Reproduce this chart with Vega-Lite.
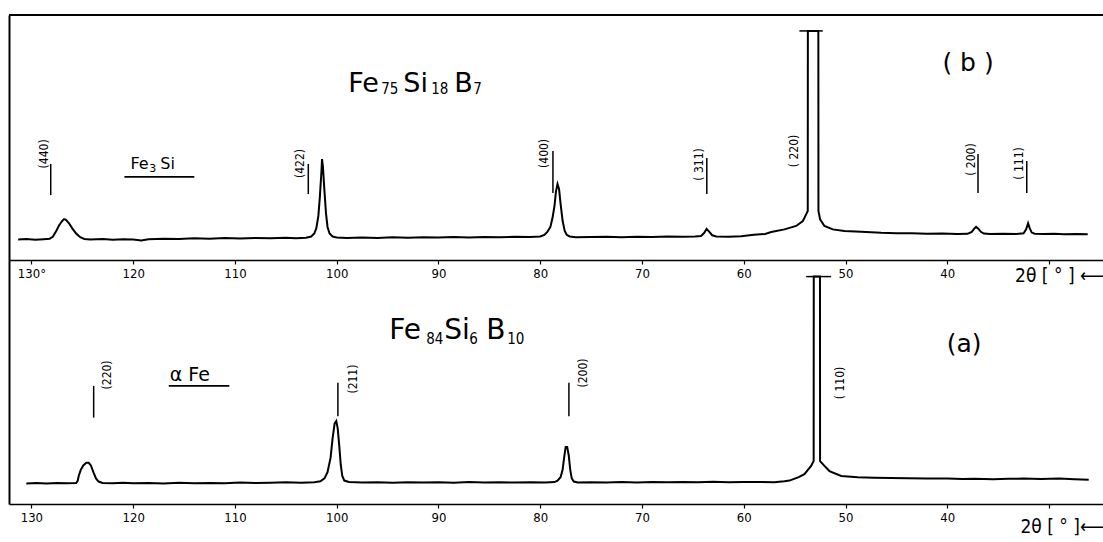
{
  "$schema": "https://vega.github.io/schema/vega-lite/v6.json",
  "background": "white",
  "padding": {"left": 8, "top": 14, "right": 0, "bottom": 0},
  "bounds": "flush",
  "spacing": 0,
  "config": {
    "view": {"stroke": null},
    "font": "DejaVu Sans Condensed",
    "axis": {"grid": false, "labelColor": "black", "titleColor": "black", "domainColor": "black", "tickColor": "black"}
  },
  "datasets": {
    "trace_b": [
      {"x": 131.3, "y": 8.4}, {"x": 130.5, "y": 8.6}, {"x": 129.6, "y": 8.3}, {"x": 128.8, "y": 8.5}, {"x": 128.2, "y": 8.7},
      {"x": 127.9, "y": 9.5}, {"x": 127.6, "y": 11.5}, {"x": 127.3, "y": 14.0}, {"x": 127.0, "y": 15.8}, {"x": 126.8, "y": 16.7},
      {"x": 126.6, "y": 16.4}, {"x": 126.3, "y": 15.0}, {"x": 126.0, "y": 13.0}, {"x": 125.6, "y": 10.8}, {"x": 125.2, "y": 9.3},
      {"x": 124.8, "y": 8.6}, {"x": 124.2, "y": 8.4}, {"x": 123.0, "y": 8.6}, {"x": 122.0, "y": 8.3}, {"x": 121.0, "y": 8.5},
      {"x": 120.0, "y": 8.4}, {"x": 119.2, "y": 8.0}, {"x": 118.5, "y": 8.5}, {"x": 117.0, "y": 8.7}, {"x": 115.5, "y": 8.6},
      {"x": 114.0, "y": 8.9}, {"x": 112.5, "y": 8.7}, {"x": 111.0, "y": 9.0}, {"x": 109.5, "y": 8.8}, {"x": 108.0, "y": 9.0},
      {"x": 106.5, "y": 8.9}, {"x": 105.0, "y": 9.1}, {"x": 104.0, "y": 8.9}, {"x": 103.0, "y": 9.1}, {"x": 102.5, "y": 9.6},
      {"x": 102.2, "y": 10.8}, {"x": 102.0, "y": 13.0}, {"x": 101.8, "y": 18.0}, {"x": 101.65, "y": 26.0}, {"x": 101.5, "y": 36.0},
      {"x": 101.44, "y": 41.2}, {"x": 101.35, "y": 38.0}, {"x": 101.2, "y": 28.0}, {"x": 101.05, "y": 19.0}, {"x": 100.9, "y": 13.5},
      {"x": 100.7, "y": 10.8}, {"x": 100.4, "y": 9.6}, {"x": 100.0, "y": 9.2}, {"x": 99.0, "y": 9.0}, {"x": 97.5, "y": 9.2},
      {"x": 96.0, "y": 9.0}, {"x": 94.5, "y": 9.3}, {"x": 93.0, "y": 9.1}, {"x": 91.5, "y": 9.3}, {"x": 90.0, "y": 9.2},
      {"x": 88.5, "y": 9.4}, {"x": 87.0, "y": 9.2}, {"x": 85.5, "y": 9.4}, {"x": 84.0, "y": 9.3}, {"x": 82.5, "y": 9.5},
      {"x": 81.0, "y": 9.4}, {"x": 80.0, "y": 9.6}, {"x": 79.6, "y": 10.2}, {"x": 79.3, "y": 11.5}, {"x": 79.0, "y": 13.5},
      {"x": 78.8, "y": 17.0}, {"x": 78.6, "y": 22.0}, {"x": 78.45, "y": 28.0}, {"x": 78.3, "y": 31.0}, {"x": 78.15, "y": 29.0},
      {"x": 78.0, "y": 23.0}, {"x": 77.8, "y": 16.0}, {"x": 77.6, "y": 12.0}, {"x": 77.4, "y": 10.3}, {"x": 77.1, "y": 9.6},
      {"x": 76.5, "y": 9.3}, {"x": 75.0, "y": 9.4}, {"x": 73.5, "y": 9.5}, {"x": 72.0, "y": 9.3}, {"x": 70.5, "y": 9.5},
      {"x": 69.0, "y": 9.4}, {"x": 67.5, "y": 9.6}, {"x": 66.0, "y": 9.5}, {"x": 64.8, "y": 9.6}, {"x": 64.2, "y": 9.8},
      {"x": 63.9, "y": 11.0}, {"x": 63.65, "y": 12.7}, {"x": 63.4, "y": 11.6}, {"x": 63.1, "y": 10.1}, {"x": 62.7, "y": 9.6},
      {"x": 61.5, "y": 9.5}, {"x": 60.25, "y": 9.7}, {"x": 59.0, "y": 10.3}, {"x": 57.9, "y": 10.6}, {"x": 57.3, "y": 11.4},
      {"x": 56.0, "y": 12.5}, {"x": 54.85, "y": 13.9}, {"x": 54.19, "y": 15.9}, {"x": 53.87, "y": 18.6}, {"x": 53.71, "y": 20.0},
      {"x": 53.7, "y": 93.5}, {"x": 52.67, "y": 93.5}, {"x": 52.66, "y": 20.0}, {"x": 52.5, "y": 16.6}, {"x": 52.07, "y": 13.9},
      {"x": 51.25, "y": 12.5}, {"x": 50.11, "y": 11.8}, {"x": 48.47, "y": 11.55}, {"x": 46.5, "y": 11.1}, {"x": 45.0, "y": 10.9},
      {"x": 43.5, "y": 10.9}, {"x": 42.0, "y": 10.7}, {"x": 40.5, "y": 10.8}, {"x": 39.0, "y": 10.6}, {"x": 38.0, "y": 10.7},
      {"x": 37.6, "y": 11.5}, {"x": 37.35, "y": 12.8}, {"x": 37.17, "y": 13.5}, {"x": 36.95, "y": 12.8}, {"x": 36.7, "y": 11.5},
      {"x": 36.4, "y": 10.8}, {"x": 35.8, "y": 10.6}, {"x": 34.5, "y": 10.7}, {"x": 33.2, "y": 10.6}, {"x": 32.5, "y": 10.9},
      {"x": 32.25, "y": 12.5}, {"x": 32.06, "y": 15.0}, {"x": 31.9, "y": 13.0}, {"x": 31.7, "y": 11.2}, {"x": 31.4, "y": 10.7},
      {"x": 30.5, "y": 10.6}, {"x": 29.5, "y": 10.7}, {"x": 28.5, "y": 10.5}, {"x": 27.3, "y": 10.6}, {"x": 26.2, "y": 10.5}
    ],
    "trace_a": [
      {"x": 130.5, "y": 8.4}, {"x": 129.5, "y": 8.6}, {"x": 128.5, "y": 8.4}, {"x": 127.5, "y": 8.6}, {"x": 126.5, "y": 8.5},
      {"x": 125.6, "y": 8.6}, {"x": 125.45, "y": 9.5}, {"x": 125.35, "y": 11.5}, {"x": 125.15, "y": 14.0}, {"x": 124.9, "y": 15.8},
      {"x": 124.6, "y": 16.9}, {"x": 124.37, "y": 16.9}, {"x": 124.15, "y": 15.8}, {"x": 123.9, "y": 13.0}, {"x": 123.65, "y": 10.5},
      {"x": 123.4, "y": 9.2}, {"x": 123.0, "y": 8.6}, {"x": 122.0, "y": 8.5}, {"x": 121.0, "y": 8.7}, {"x": 120.0, "y": 8.5},
      {"x": 118.5, "y": 8.6}, {"x": 117.0, "y": 8.4}, {"x": 115.5, "y": 8.7}, {"x": 114.0, "y": 8.5}, {"x": 112.5, "y": 8.6},
      {"x": 111.0, "y": 8.5}, {"x": 109.5, "y": 8.8}, {"x": 108.0, "y": 8.6}, {"x": 106.5, "y": 8.7}, {"x": 105.0, "y": 8.9},
      {"x": 103.5, "y": 8.7}, {"x": 102.2, "y": 8.9}, {"x": 101.6, "y": 9.3}, {"x": 101.2, "y": 10.5}, {"x": 100.9, "y": 13.0},
      {"x": 100.6, "y": 19.0}, {"x": 100.4, "y": 27.0}, {"x": 100.2, "y": 33.0}, {"x": 100.04, "y": 34.0}, {"x": 99.9, "y": 31.0},
      {"x": 99.75, "y": 24.0}, {"x": 99.6, "y": 16.0}, {"x": 99.45, "y": 11.5}, {"x": 99.25, "y": 9.6}, {"x": 98.8, "y": 9.0},
      {"x": 97.5, "y": 8.8}, {"x": 96.0, "y": 8.9}, {"x": 94.5, "y": 8.7}, {"x": 93.0, "y": 8.9}, {"x": 91.5, "y": 8.8},
      {"x": 90.0, "y": 8.9}, {"x": 88.5, "y": 8.7}, {"x": 87.0, "y": 9.0}, {"x": 85.5, "y": 8.8}, {"x": 84.0, "y": 8.9},
      {"x": 82.5, "y": 8.8}, {"x": 81.0, "y": 8.9}, {"x": 79.5, "y": 8.8}, {"x": 78.6, "y": 9.0}, {"x": 78.3, "y": 9.6},
      {"x": 78.0, "y": 11.0}, {"x": 77.8, "y": 14.0}, {"x": 77.65, "y": 19.0}, {"x": 77.5, "y": 23.4}, {"x": 77.35, "y": 23.4},
      {"x": 77.2, "y": 20.0}, {"x": 77.05, "y": 14.0}, {"x": 76.9, "y": 10.5}, {"x": 76.7, "y": 9.2}, {"x": 76.3, "y": 8.8},
      {"x": 75.0, "y": 8.9}, {"x": 73.5, "y": 8.8}, {"x": 72.0, "y": 9.0}, {"x": 70.5, "y": 8.8}, {"x": 69.0, "y": 9.0},
      {"x": 67.5, "y": 8.9}, {"x": 66.0, "y": 9.0}, {"x": 64.5, "y": 8.9}, {"x": 63.0, "y": 9.1}, {"x": 61.5, "y": 8.9},
      {"x": 60.0, "y": 9.0}, {"x": 58.5, "y": 9.0}, {"x": 57.0, "y": 8.9}, {"x": 56.0, "y": 9.3}, {"x": 55.51, "y": 9.6},
      {"x": 54.6, "y": 11.0}, {"x": 54.04, "y": 12.2}, {"x": 53.38, "y": 15.6}, {"x": 53.13, "y": 17.6}, {"x": 53.12, "y": 93.2},
      {"x": 52.51, "y": 93.2}, {"x": 52.5, "y": 17.6}, {"x": 52.07, "y": 15.6}, {"x": 51.58, "y": 13.5}, {"x": 50.43, "y": 11.5},
      {"x": 48.8, "y": 11.0}, {"x": 47.2, "y": 10.8}, {"x": 45.5, "y": 10.7}, {"x": 43.9, "y": 10.6}, {"x": 42.0, "y": 10.4},
      {"x": 40.0, "y": 10.5}, {"x": 38.5, "y": 10.2}, {"x": 37.3, "y": 10.3}, {"x": 35.5, "y": 10.1}, {"x": 34.0, "y": 10.3},
      {"x": 32.5, "y": 10.4}, {"x": 30.8, "y": 10.2}, {"x": 29.0, "y": 10.4}, {"x": 27.5, "y": 10.1}, {"x": 26.1, "y": 9.9}
    ],
    "ticks": [{"x": 30}, {"x": 40}, {"x": 50}, {"x": 60}, {"x": 70}, {"x": 80}, {"x": 90}, {"x": 100}, {"x": 110}, {"x": 120}, {"x": 130}],
    "caps_b": [{"x": 54.53, "x2": 52.23, "y": 93.5}],
    "caps_a": [{"x": 53.87, "x2": 51.41, "y": 93.2}],
    "marks_b": [
      {"x": 128.1, "y": 39.2, "y2": 26.5}, {"x": 102.79, "y": 39.2, "y2": 26.9}, {"x": 78.75, "y": 44.5, "y2": 27.3},
      {"x": 63.63, "y": 41.6, "y2": 26.9}, {"x": 36.98, "y": 43.3, "y2": 27.3}, {"x": 32.19, "y": 40.4, "y2": 27.3}
    ],
    "hkl_b": [
      {"x": 128.72, "y": 43.3, "t": "(440)"}, {"x": 103.58, "y": 39.4, "t": "(422)"}, {"x": 79.61, "y": 43.5, "t": "(400)"},
      {"x": 64.38, "y": 39.0, "t": "( 311)"}, {"x": 55.05, "y": 44.5, "t": "( 220)"}, {"x": 37.66, "y": 41.0, "t": "( 200)"},
      {"x": 32.95, "y": 39.4, "t": "( 111)"}
    ],
    "marks_a": [
      {"x": 123.88, "y": 48.4, "y2": 35.4}, {"x": 99.88, "y": 49.7, "y2": 36.0}, {"x": 77.18, "y": 49.7, "y2": 36.0}
    ],
    "hkl_a": [
      {"x": 122.53, "y": 52.9, "t": "(220)"}, {"x": 98.4, "y": 51.2, "t": "(211)"}, {"x": 75.8, "y": 53.7, "t": "(200)"},
      {"x": 50.53, "y": 49.6, "t": "( 110)"}
    ],
    "phase_b_main": [{"x": 120.27, "y": 37.1, "t": "Fe"}, {"x": 117.33, "y": 37.1, "t": "Si"}],
    "phase_b_sub": [{"x": 118.41, "y": 37.1, "t": "3"}],
    "under_b": [{"x": 120.86, "x2": 113.99, "y": 33.9}],
    "phase_a": [{"x": 116.4, "y": 50.4, "t": "α Fe"}],
    "under_a": [{"x": 116.5, "x2": 110.55, "y": 48.4}],
    "title_b_main": [{"x": 98.86, "y": 68.6, "t": "Fe"}, {"x": 93.46, "y": 68.6, "t": "Si"}, {"x": 88.45, "y": 68.6, "t": "B"}],
    "title_b_sub": [{"x": 95.62, "y": 68.6, "t": "75"}, {"x": 90.71, "y": 68.6, "t": "18"}, {"x": 86.58, "y": 68.6, "t": "7"}],
    "title_a_main": [{"x": 94.83, "y": 67.6, "t": "Fe"}, {"x": 89.43, "y": 67.6, "t": "Si"}, {"x": 85.3, "y": 67.6, "t": "B"}],
    "title_a_sub": [{"x": 91.2, "y": 67.6, "t": "84"}, {"x": 86.97, "y": 67.6, "t": "6"}, {"x": 83.24, "y": 67.6, "t": "10"}],
    "tag_b": [{"x": 37.96, "y": 80.4, "t": "( b )"}],
    "tag_a": [{"x": 38.35, "y": 65.6, "t": "(a)"}],
    "frame": [{"x": 132.2, "x2": 24.6, "y": 100}]
  },
  "vconcat": [
    {
      "width": 1095,
      "height": 245,
      "encoding": {
        "x": {
          "field": "x", "type": "quantitative",
          "scale": {"domain": [24.6, 132.2], "reverse": true, "nice": false, "zero": false},
          "axis": {
            "values": [30, 40, 50, 60, 70, 80, 90, 100, 110, 120, 130],
            "labelExpr": "datum.value == 130 ? '130°' : (datum.value == 30 ? '' : datum.label)",
            "tickSize": 4, "tickWidth": 1.2, "domainWidth": 1.5, "labelFontSize": 13, "labelPadding": 3,
            "title": "2θ [ ° ] ⟵", "titleFontSize": 19, "titleFontWeight": "normal",
            "titleX": 1095, "titleY": 15, "titleAlign": "right", "titleBaseline": "middle", "titleAnchor": "end"
          }
        },
        "y": {
          "field": "y", "type": "quantitative",
          "scale": {"domain": [0, 100], "nice": false, "zero": false},
          "axis": {"ticks": false, "labels": false, "title": null, "domainWidth": 2}
        }
      },
      "layer": [
        {"data": {"name": "frame"}, "mark": {"type": "rule", "color": "black", "strokeWidth": 2}, "encoding": {"x2": {"field": "x2"}}},
        {"data": {"name": "ticks"}, "mark": {"type": "rule", "color": "black", "strokeWidth": 1.2}, "encoding": {"y": {"datum": 0}, "y2": {"datum": 1.6}}},
        {"data": {"name": "trace_b"}, "mark": {"type": "line", "color": "black", "strokeWidth": 2}},
        {"data": {"name": "caps_b"}, "mark": {"type": "rule", "color": "black", "strokeWidth": 1.5}, "encoding": {"x2": {"field": "x2"}}},
        {"data": {"name": "marks_b"}, "mark": {"type": "rule", "color": "black", "strokeWidth": 1.5}, "encoding": {"y2": {"field": "y2"}}},
        {"data": {"name": "hkl_b"}, "mark": {"type": "text", "angle": 270, "fontSize": 12, "align": "center", "baseline": "middle", "color": "black"}, "encoding": {"text": {"field": "t"}}},
        {"data": {"name": "under_b"}, "mark": {"type": "rule", "color": "black", "strokeWidth": 1.8}, "encoding": {"x2": {"field": "x2"}}},
        {"data": {"name": "phase_b_main"}, "mark": {"type": "text", "font": "DejaVu Sans", "fontSize": 16, "align": "left", "baseline": "alphabetic", "color": "black"}, "encoding": {"text": {"field": "t"}}},
        {"data": {"name": "phase_b_sub"}, "mark": {"type": "text", "font": "DejaVu Sans", "fontSize": 11, "align": "left", "baseline": "alphabetic", "dy": 3, "color": "black"}, "encoding": {"text": {"field": "t"}}},
        {"data": {"name": "title_b_main"}, "mark": {"type": "text", "font": "DejaVu Sans", "fontSize": 27, "align": "left", "baseline": "alphabetic", "color": "black"}, "encoding": {"text": {"field": "t"}}},
        {"data": {"name": "title_b_sub"}, "mark": {"type": "text", "fontSize": 15, "align": "left", "baseline": "alphabetic", "dy": 2, "color": "black"}, "encoding": {"text": {"field": "t"}}},
        {"data": {"name": "tag_b"}, "mark": {"type": "text", "font": "DejaVu Sans", "fontSize": 25, "align": "center", "baseline": "middle", "color": "black"}, "encoding": {"text": {"field": "t"}}}
      ]
    },
    {
      "width": 1095,
      "height": 244,
      "encoding": {
        "x": {
          "field": "x", "type": "quantitative",
          "scale": {"domain": [24.6, 132.2], "reverse": true, "nice": false, "zero": false},
          "axis": {
            "values": [30, 40, 50, 60, 70, 80, 90, 100, 110, 120, 130],
            "labelExpr": "datum.value == 30 ? '' : datum.label",
            "tickSize": 4, "tickWidth": 1.2, "domainWidth": 1.5, "labelFontSize": 13, "labelPadding": 3,
            "title": "2θ [ ° ]⟵", "titleFontSize": 19, "titleFontWeight": "normal",
            "titleX": 1095, "titleY": 22, "titleAlign": "right", "titleBaseline": "middle", "titleAnchor": "end"
          }
        },
        "y": {
          "field": "y", "type": "quantitative",
          "scale": {"domain": [0, 100], "nice": false, "zero": false},
          "axis": {"ticks": false, "labels": false, "title": null, "domainWidth": 2}
        }
      },
      "layer": [
        {"data": {"name": "ticks"}, "mark": {"type": "rule", "color": "black", "strokeWidth": 1.2}, "encoding": {"y": {"datum": 0}, "y2": {"datum": 1.6}}},
        {"data": {"name": "trace_a"}, "mark": {"type": "line", "color": "black", "strokeWidth": 2}},
        {"data": {"name": "caps_a"}, "mark": {"type": "rule", "color": "black", "strokeWidth": 1.5}, "encoding": {"x2": {"field": "x2"}}},
        {"data": {"name": "marks_a"}, "mark": {"type": "rule", "color": "black", "strokeWidth": 1.5}, "encoding": {"y2": {"field": "y2"}}},
        {"data": {"name": "hkl_a"}, "mark": {"type": "text", "angle": 270, "fontSize": 12, "align": "center", "baseline": "middle", "color": "black"}, "encoding": {"text": {"field": "t"}}},
        {"data": {"name": "under_a"}, "mark": {"type": "rule", "color": "black", "strokeWidth": 1.8}, "encoding": {"x2": {"field": "x2"}}},
        {"data": {"name": "phase_a"}, "mark": {"type": "text", "font": "DejaVu Sans", "fontSize": 19, "align": "left", "baseline": "alphabetic", "color": "black"}, "encoding": {"text": {"field": "t"}}},
        {"data": {"name": "title_a_main"}, "mark": {"type": "text", "font": "DejaVu Sans", "fontSize": 28, "align": "left", "baseline": "alphabetic", "color": "black"}, "encoding": {"text": {"field": "t"}}},
        {"data": {"name": "title_a_sub"}, "mark": {"type": "text", "fontSize": 15, "align": "left", "baseline": "alphabetic", "dy": 5, "color": "black"}, "encoding": {"text": {"field": "t"}}},
        {"data": {"name": "tag_a"}, "mark": {"type": "text", "font": "DejaVu Sans", "fontSize": 25, "align": "center", "baseline": "middle", "color": "black"}, "encoding": {"text": {"field": "t"}}}
      ]
    }
  ]
}
